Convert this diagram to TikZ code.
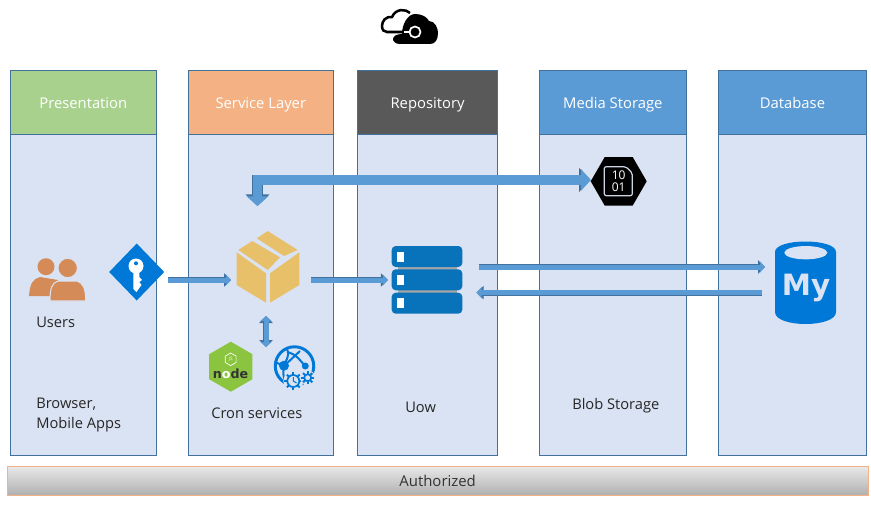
\documentclass[tikz,border=0pt]{standalone}
\usepackage{xcolor}
\usepackage{fontspec}
\setmainfont{Open Sans}
\newfontfamily\iconfont{DejaVu Sans}
\usetikzlibrary{shapes.geometric, arrows.meta, positioning, calc}

\definecolor{layerfill}{HTML}{DAE3F3}
\definecolor{layeredge}{HTML}{41719C}
\definecolor{headblue}{HTML}{5B9BD5}
\definecolor{headgreen}{HTML}{A9D18E}
\definecolor{headorange}{HTML}{F4B183}
\definecolor{headgray}{HTML}{595959}
\definecolor{azure}{HTML}{0078D7}
\definecolor{stackblue}{HTML}{0872BA}
\definecolor{boxyellow}{HTML}{E8C06A}
\definecolor{userorange}{HTML}{D58B57}
\definecolor{nodegreen}{HTML}{8BC53F}

\begin{document}
\begin{tikzpicture}[
    x=0.75pt, y=-0.75pt,
    layer/.style={rectangle, draw=layeredge, fill=layerfill, line width=0.75pt, minimum width=#1*0.75pt, minimum height=385*0.75pt, inner sep=0pt, outer sep=0pt, anchor=north west},
    head/.style={rectangle, draw=layeredge, line width=0.75pt, minimum width=#1*0.75pt, minimum height=64*0.75pt, inner sep=0pt, outer sep=0pt, anchor=north, text=white, text height=11.5pt, text depth=2.5pt, font=\fontsize{11.1}{13}\selectfont},
    caption/.style={font=\fontsize{11}{15}\selectfont, align=left, text=black!85, inner sep=0pt},
    icon/.style={inner sep=0pt, outer sep=0pt},
    blockarrow/.style={
        preaction={draw=layeredge, line width=#1*0.75pt+0.8pt, -{Triangle[length=#1*0.75pt+1.5pt, width=#1*1.65pt+1.6pt]}},
        -{Triangle[length=#1*0.75pt, width=#1*1.65pt]}, draw=headblue, color=headblue, line width=#1*0.75pt},
    blockarrow/.default=5,
    twinarrow/.style={
        preaction={draw=layeredge, line width=#1*0.75pt+0.8pt, {Triangle[length=#1*0.75pt+1.5pt, width=#1*1.65pt+1.6pt]}-{Triangle[length=#1*0.75pt+1.5pt, width=#1*1.65pt+1.6pt]}},
        {Triangle[length=#1*0.75pt, width=#1*1.65pt]}-{Triangle[length=#1*0.75pt, width=#1*1.65pt]}, draw=headblue, color=headblue, line width=#1*0.75pt},
]
\useasboundingbox (0,0) rectangle (871,506);

% Layers
\node[layer=146] (pres_col) at (10.3,70.3) {};
\node[layer=145] (serv_col) at (188.3,70.3) {};
\node[layer=139.7] (repo_col) at (357.7,70.3) {};
\node[layer=147] (media_col) at (539.3,70.3) {};
\node[layer=148.4] (data_col) at (718.3,70.3) {};

\node[head=146, fill=headgreen] (pres) at (pres_col.north) {Presentation};
\node[head=145, fill=headorange] (serv) at (serv_col.north) {Service Layer};
\node[head=139.7, fill=headgray] (repo) at (repo_col.north) {Repository};
\node[head=147, fill=headblue] (media) at (media_col.north) {Media Storage};
\node[head=148.4, fill=headblue] (data) at (data_col.north) {Database};

% Bottom bar
\node[rectangle, draw=headorange, line width=0.75pt, top color=black!9, bottom color=black!31, minimum width=860.7*0.75pt, minimum height=29*0.75pt, anchor=north west, inner sep=0pt, outer sep=0pt, text=black!80, font=\fontsize{11.2}{13}\selectfont] (auth) at (7.3,466.3) {Authorized};

% Captions
\node[caption, anchor=west] (users_txt) at (36,322) {Users};
\node[caption, anchor=north west] (browser) at (36,398) {Browser,\\Mobile Apps};
\node[caption, anchor=west] (cron) at (211,413) {Cron services};
\node[caption, anchor=west] (uow) at (405,407.5) {Uow};
\node[caption, anchor=west] (blob) at (572,405.5) {Blob Storage};

% Key
\node[diamond, fill=azure, minimum width=55*0.75pt, minimum height=57*0.75pt, icon] (key) at (136.7,272) {};
\fill[white] (136,266) circle (7.5);
\fill[azure] (136,263.3) circle (2);
\fill[white] (133.3,270) -- (139.3,270) -- (139.3,277) -- (142,280) -- (139.3,282) -- (141.5,285) -- (139.3,288) -- (136.5,292) -- (133.3,289) -- cycle;

% Cardboard box
\node[minimum width=64*0.75pt, minimum height=72*0.75pt, icon] (box) at (268,267) {};
\fill[boxyellow] (236.7,252.3) -- (266,273.3) -- (266,302.7) -- (236.7,285) -- cycle;
\fill[boxyellow] (299.3,252.3) -- (270,273.3) -- (270,302.7) -- (299.3,285) -- cycle;
\fill[boxyellow] (238.3,250) -- (252.3,241) -- (280,257.3) -- (267.7,270) -- cycle;
\fill[boxyellow] (256.7,238.3) -- (267.7,231) -- (297.7,250) -- (284,256) -- cycle;

% Stack of servers
\node[minimum width=71*0.75pt, minimum height=68*0.75pt, icon] (stack) at (427,280) {};
\fill[black!35] (398,265) rectangle (456.7,296);
\foreach \y in {246,269.3,292.7} {
  \fill[stackblue, rounded corners=3pt] (391.7,\y) rectangle (462.3,\y+21);
  \fill[white] (397.3,\y+5.7) rectangle (404,\y+15.7);
}

% Binary blob
\node[regular polygon, regular polygon sides=6, fill=black, minimum size=56*0.75pt, icon, text=white, font=\fontsize{9}{8.5}\selectfont, align=center] (blobicon) at (618.7,181.3) {10\\01};
\draw[layerfill!85!gray, line width=0.9pt, rounded corners=1.5pt] (604.3,166.7) -- (626,166.7) -- (632.3,173) -- (632.3,195.7) -- (604.3,195.7) -- cycle;

% Database
\node[minimum width=61*0.75pt, minimum height=83*0.75pt, icon] (db) at (805.5,283) {};
\fill[azure] (775,252) .. controls (775,238) and (836,238) .. (836,252) -- (836,312) .. controls (836,328) and (775,328) .. (775,312) -- cycle;
\node[ellipse, fill=layerfill, minimum width=43*0.75pt, minimum height=13.3*0.75pt, icon] (dbtop) at (805.8,252.7) {};
\node[icon, text=layerfill, font=\iconfont\fontsize{22}{24}\selectfont\bfseries] (dbname) at (806,288) {My};

% Users
\fill[userorange] (29,296) .. controls (30,283) and (33,279) .. (40,277) -- (58,280) -- (54,296) -- cycle;
\node[circle, fill=userorange, minimum size=17*0.75pt, icon] (user_a) at (46,266.7) {};
\fill[userorange, draw=layerfill, line width=0.8pt] (50,301) .. controls (50,288) and (52,283) .. (58,281) -- (77,281) .. controls (83,283) and (85.7,288) .. (85.7,301) -- cycle;
\node[circle, fill=userorange, draw=layerfill, line width=0.8pt, minimum size=19.5*0.75pt, icon] (user_b) at (67.7,268) {};

% Node.js
\node[regular polygon, regular polygon sides=6, shape border rotate=30, fill=nodegreen, minimum size=50*0.75pt, icon] (nodejs) at (230.8,366.7) {};
\node[regular polygon, regular polygon sides=6, shape border rotate=30, draw=white, line width=0.5pt, minimum size=12.6*0.75pt, icon, text=white, font=\fontsize{3.5}{4}\selectfont] (jsmark) at (230.7,359.3) {JS};
\node[icon, text=black!80, font=\iconfont\fontsize{9.5}{10}\selectfont\bfseries] (nodename) at (230.5,374) {n\textcolor{white}{o}de};

% Web job
\node[circle, draw=azure, line width=2.2pt, minimum size=38.5*0.75pt, icon] (webjob) at (294.5,366) {};
\draw[azure, line width=1.5pt] (287,349) .. controls (291,354) and (285,362) .. (284,366) .. controls (283,372) and (283,376) .. (285,381);
\draw[azure, line width=1.5pt] (287,352) .. controls (296,354) and (300,360) .. (305,366);
\draw[azure, line width=1.5pt] (275,362) -- (284,366) -- (300,351);
\fill[azure] (284,365.7) circle (5);
\fill[azure] (305.3,366) circle (3.5);
\foreach \cx/\cy/\gr/\gname in {293.3/381/6/gear_a, 307.7/377.7/3.5/gear_b} {
  \fill[layerfill] (\cx,\cy) circle (\gr+4);
  \foreach \a in {0,45,...,315}
    \draw[azure, line width=1.5pt] (\cx,\cy) -- ++(\a:\gr+3);
  \node[circle, draw=azure, fill=layerfill, line width=1.3pt, minimum size=\gr*1.5pt, icon] (\gname) at (\cx,\cy) {};
}
\draw[azure, line width=0.8pt] (293.3,377) -- (293.3,381) -- (296.5,383);

% Cloud
\draw[black, line width=1.9pt, fill=white] (410,13) .. controls (406,9) and (396,8) .. (392,17) .. controls (386,16) and (382,21) .. (382,26) .. controls (382,30) and (384,32) .. (387,32) -- (404,32);
\fill[black] (400,44) .. controls (395,44) and (393,41) .. (393,39) .. controls (393,36) and (397,34) .. (402,34) .. controls (402,24) and (408,14) .. (415,14) .. controls (422,14) and (427,17) .. (429,21) .. controls (435,21) and (438,28) .. (438,33) .. controls (438,40) and (435,44) .. (430,44) -- cycle;
\node[circle, draw=white, fill=black, line width=1.3pt, minimum size=11*0.75pt, icon] (cloud) at (415,32) {};
\draw[white, line width=1.4pt] (cloud.west) -- (404,32);

% Arrows
\draw[blockarrow, shorten <=3pt, shorten >=3.75pt] ([yshift=-6pt]key.east) -- ([yshift=-6pt]key.east -| box.west);
\draw[blockarrow, shorten <=8.25pt, shorten >=2.75pt] (box.east |- stack.west) -- (stack.west);
\draw[blockarrow, shorten <=12.5pt, shorten >=7.5pt] ([yshift=9.75pt]stack.east) -- ([yshift=9.75pt]stack.east -| db.west);
\draw[blockarrow, shorten <=9.75pt, shorten >=10.5pt] ([yshift=-9.5pt]stack.east -| db.west) -- ([yshift=-9.5pt]stack.east);
\coordinate (cron_link) at (266,347);
\draw[twinarrow=5, shorten <=9.75pt] (cron_link |- box.south) -- (cron_link);
\draw[twinarrow=9.5, shorten >=18.75pt] ([yshift=1pt]blobicon.west) -| ([xshift=-7.9pt]box.north);
\end{tikzpicture}
\end{document}
